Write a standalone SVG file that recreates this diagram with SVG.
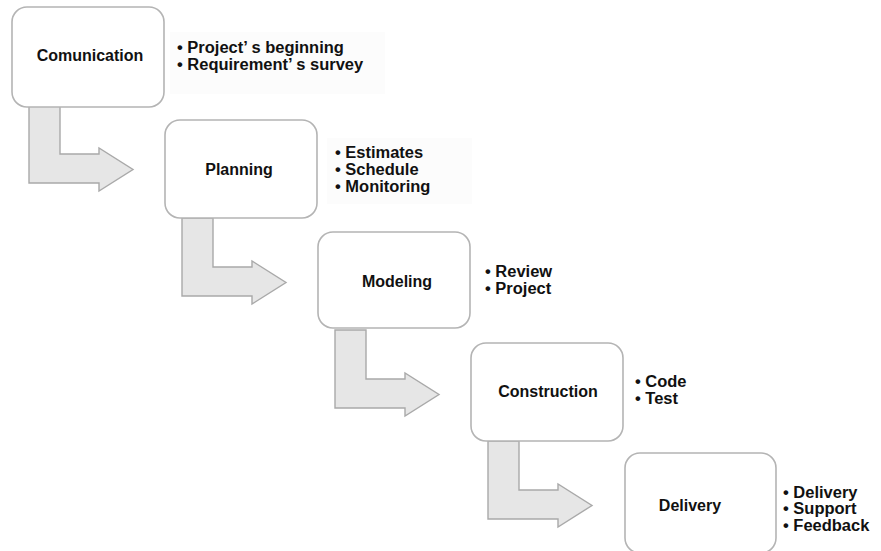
<svg xmlns="http://www.w3.org/2000/svg" width="881" height="551" viewBox="0 0 881 551">
  <defs>
    <style>
      .box { fill: #ffffff; stroke: #b4b4b4; stroke-width: 1.6; }
      .arrow { fill: #e6e6e6; stroke: #a9a9a9; stroke-width: 1.4; stroke-linejoin: miter; }
      .label { font-family: "Liberation Sans", Arial, sans-serif; font-weight: bold; font-size: 16px; fill: #111; text-anchor: middle; }
      .bullets { font-family: "Liberation Sans", Arial, sans-serif; font-weight: bold; font-size: 16px; fill: #111; }
      .note-bg { fill: #fcfcfc; }
    </style>
    <!-- L-shaped block arrow, relative to the top-left corner of its source box -->
    <path id="stepArrow" class="arrow" d="M17,98 L48,98 L48,147 L87,147 L87,141 L121,162.5 L87,184 L87,176 L17,176 Z"/>
  </defs>

  <rect width="881" height="551" fill="#ffffff"/>

  <!-- connectors -->
  <g id="connectors">
    <use href="#stepArrow" x="12" y="7"/>
    <use href="#stepArrow" x="165" y="120"/>
    <use href="#stepArrow" x="318" y="232"/>
    <use href="#stepArrow" x="471" y="343"/>
  </g>

  <!-- Comunication -->
  <g id="comunication">
    <rect class="box" x="12" y="7" width="152" height="100" rx="15"/>
    <text class="label" x="90" y="61">Comunication</text>
    <rect class="note-bg" x="170" y="32" width="215" height="62"/>
    <g transform="translate(177,53) scale(1.03,1)">
      <text class="bullets"><tspan x="0" y="0">• Project’ s beginning</tspan><tspan x="0" y="17">• Requirement’ s survey</tspan></text>
    </g>
  </g>

  <!-- Planning -->
  <g id="planning">
    <rect class="box" x="165" y="120" width="152" height="98" rx="15"/>
    <text class="label" x="239" y="175">Planning</text>
    <rect class="note-bg" x="327" y="138" width="145" height="66"/>
    <g transform="translate(335,158) scale(1.03,1)">
      <text class="bullets"><tspan x="0" y="0">• Estimates</tspan><tspan x="0" y="17">• Schedule</tspan><tspan x="0" y="34">• Monitoring</tspan></text>
    </g>
  </g>

  <!-- Modeling -->
  <g id="modeling">
    <rect class="box" x="318" y="232" width="152" height="96" rx="15"/>
    <text class="label" x="397" y="287">Modeling</text>
    <g transform="translate(485,277) scale(1.03,1)">
      <text class="bullets"><tspan x="0" y="0">• Review</tspan><tspan x="0" y="17">• Project</tspan></text>
    </g>
  </g>

  <!-- Construction -->
  <g id="construction">
    <rect class="box" x="471" y="343" width="152" height="98" rx="15"/>
    <text class="label" x="548" y="397">Construction</text>
    <g transform="translate(635,387) scale(1.03,1)">
      <text class="bullets"><tspan x="0" y="0">• Code</tspan><tspan x="0" y="17">• Test</tspan></text>
    </g>
  </g>

  <!-- Delivery -->
  <g id="delivery">
    <rect class="box" x="625" y="453" width="151" height="100" rx="15"/>
    <text class="label" x="690" y="511">Delivery</text>
    <g transform="translate(783,498) scale(1.03,1)">
      <text class="bullets"><tspan x="0" y="0">• Delivery</tspan><tspan x="0" y="16.5">• Support</tspan><tspan x="0" y="33">• Feedback</tspan></text>
    </g>
  </g>
</svg>
